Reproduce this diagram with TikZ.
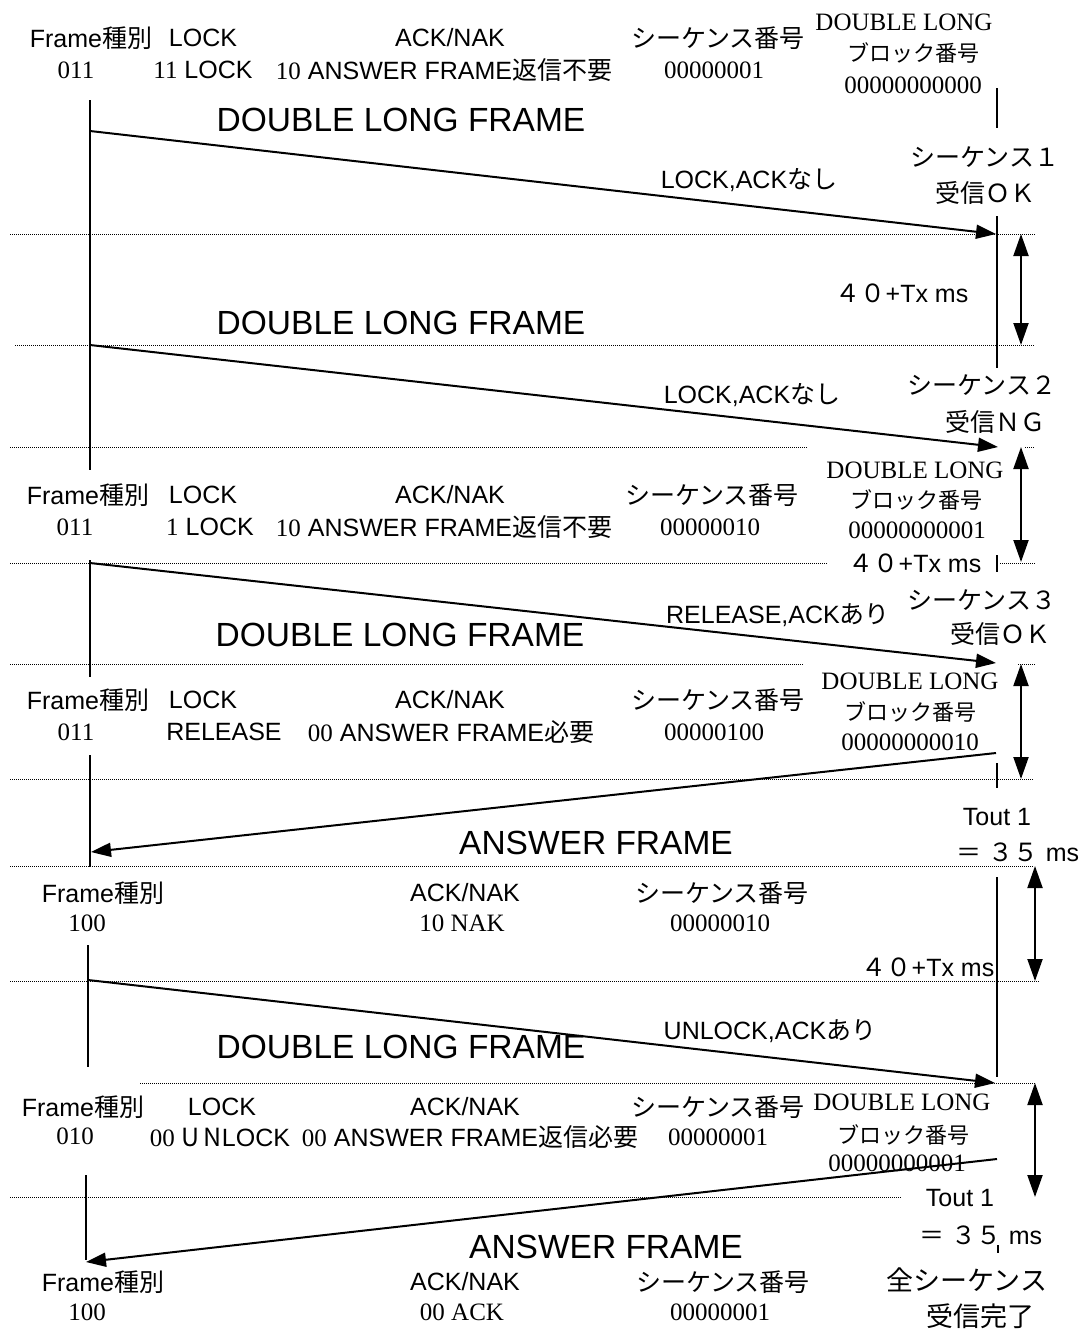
\documentclass[tikz,border=0pt]{standalone}
\usepackage{fontspec}
\setmainfont{Liberation Sans}
\newfontfamily\serfont{Liberation Serif}
\newfontfamily\jpfont{Noto Sans CJK JP}
\usepackage{tikz}
\usetikzlibrary{positioning, arrows.meta}
\newcommand{\jtxt}[1]{{\jpfont #1}}
\newcommand{\sertxt}[1]{{\serfont #1}}

\begin{document}
\begin{tikzpicture}[
  x=1pt, y=-1pt,
  lbl/.style={font=\fontsize{25}{28}\selectfont, inner sep=0pt},
  ser/.style={font=\fontsize{25}{28}\selectfont\serfont, inner sep=0pt},
  jp/.style={font=\fontsize{25}{28}\selectfont\jpfont, inner sep=0pt},
  jpsm/.style={font=\fontsize{22}{26}\selectfont\jpfont, inner sep=0pt},
  jpbig/.style={font=\fontsize{27}{30}\selectfont\jpfont, inner sep=0pt},
  big/.style={font=\fontsize{33.5}{38}\selectfont, inner sep=0pt},
  life/.style={line width=1.5pt},
  msg/.style={-{Triangle[length=20pt,width=14pt]}, line width=2pt},
  span/.style={{Triangle[length=22pt,width=15pt]}-{Triangle[length=22pt,width=15pt]}, line width=2pt},
  sep/.style={dash pattern=on 1pt off 1pt, line width=0.8pt}
]
\useasboundingbox (0,0) rectangle (1082,1339);

% header of frame 1
\node[lbl] (ft1) at (91,38) {Frame\jtxt{種別}};
\node[ser] (fv1) at (76,70) {011};
\node[lbl] (lk1) at (203,38) {LOCK};
\node[lbl] (lv1) at (203,70) {\sertxt{11} LOCK};
\node[lbl] (ak1) at (450,38) {ACK/NAK};
\node[lbl] (av1) at (444,70) {\sertxt{10} ANSWER FRAME\jtxt{返信不要}};
\node[jp] (sq1) at (718,38) {シーケンス番号};
\node[ser] (sv1) at (714,70) {00000001};
\node[ser] (dl1) at (904,22) {DOUBLE LONG};
\node[jpsm] (bk1) at (913,53) {ブロック番号};
\node[ser] (bv1) at (913,85) {00000000000};

% header of frame 2
\node[lbl] (ft2) at (88,495) {Frame\jtxt{種別}};
\node[ser] (fv2) at (75,527) {011};
\node[lbl] (lk2) at (203,495) {LOCK};
\node[lbl] (lv2) at (210,527) {\sertxt{1} LOCK};
\node[lbl] (ak2) at (450,495) {ACK/NAK};
\node[lbl] (av2) at (444,527) {\sertxt{10} ANSWER FRAME\jtxt{返信不要}};
\node[jp] (sq2) at (712,495) {シーケンス番号};
\node[ser] (sv2) at (710,527) {00000010};
\node[ser] (dl2) at (915,470) {DOUBLE LONG};
\node[jpsm] (bk2) at (916,500) {ブロック番号};
\node[ser] (bv2) at (917,530) {00000000001};

% header of frame 3
\node[lbl] (ft3) at (88,700) {Frame\jtxt{種別}};
\node[ser] (fv3) at (76,732) {011};
\node[lbl] (lk3) at (203,700) {LOCK};
\node[lbl] (lv3) at (224,732) {RELEASE};
\node[lbl] (ak3) at (450,700) {ACK/NAK};
\node[lbl] (av3) at (451,732) {\sertxt{00} ANSWER FRAME\jtxt{必要}};
\node[jp] (sq3) at (718,700) {シーケンス番号};
\node[ser] (sv3) at (714,732) {00000100};
\node[ser] (dl3) at (910,681) {DOUBLE LONG};
\node[jpsm] (bk3) at (910,712) {ブロック番号};
\node[ser] (bv3) at (910,742) {00000000010};

% answer 1
\node[lbl] (ft4) at (103,893) {Frame\jtxt{種別}};
\node[ser] (fv4) at (87,923) {100};
\node[lbl] (ak4) at (465,893) {ACK/NAK};
\node[ser] (av4) at (462,923) {10 NAK};
\node[jp] (sq4) at (722,893) {シーケンス番号};
\node[ser] (sv4) at (720,923) {00000010};

% header of frame 5
\node[lbl] (ft5) at (83,1107) {Frame\jtxt{種別}};
\node[ser] (fv5) at (75,1136) {010};
\node[lbl] (lk5) at (222,1107) {LOCK};
\node[lbl] (lv5) at (220,1137) {\sertxt{00} \jtxt{U}\kern4pt\jtxt{N}LOCK};
\node[lbl] (ak5) at (465,1107) {ACK/NAK};
\node[lbl] (av5) at (470,1137) {\sertxt{00} ANSWER FRAME\jtxt{返信必要}};
\node[jp] (sq5) at (718,1107) {シーケンス番号};
\node[ser] (sv5) at (718,1137) {00000001};
\node[ser] (dl5) at (902,1102) {DOUBLE LONG};
\node[jpsm] (bk5) at (903,1135) {ブロック番号};
\node[ser] (bv5) at (897,1163) {00000000001};

% answer 2
\node[lbl] (ft6) at (103,1282) {Frame\jtxt{種別}};
\node[ser] (fv6) at (87,1312) {100};
\node[lbl] (ak6) at (465,1282) {ACK/NAK};
\node[ser] (av6) at (462,1312) {00 ACK};
\node[jp] (sq6) at (723,1282) {シーケンス番号};
\node[ser] (sv6) at (720,1312) {00000001};

% frame names
\node[big] (df1) at (401,120) {DOUBLE LONG FRAME};
\node[big] (df2) at (401,323) {DOUBLE LONG FRAME};
\node[big] (df3) at (400,635) {DOUBLE LONG FRAME};
\node[big] (af4) at (596,843) {ANSWER FRAME};
\node[big] (df5) at (401,1047) {DOUBLE LONG FRAME};
\node[big] (af6) at (606,1247) {ANSWER FRAME};

\node[lbl] (m1) at (749,180) {LOCK,ACK\jtxt{なし}};
\node[lbl] (m2) at (752,395) {LOCK,ACK\jtxt{なし}};
\node[lbl] (m3) at (778,615) {RELEASE,ACK\jtxt{あり}};
\node[lbl] (m5) at (770,1031) {UNLOCK,ACK\jtxt{あり}};

% receiver side
\node[jp] (rs1) at (985,157) {シーケンス１};
\node[jp] (rr1) at (985,193) {受信ＯＫ};
\node[jp] (rs2) at (982,385) {シーケンス２};
\node[jp] (rr2) at (995,422) {受信ＮＧ};
\node[jp] (rs3) at (982,600) {シーケンス３};
\node[jp] (rr3) at (1000,634) {受信ＯＫ};
\node[jpbig] (fin1) at (967,1280) {全シーケンス};
\node[jpbig] (fin2) at (980,1316) {受信完了};

\node[lbl] (tx1) at (902,293) {\jtxt{４０}+Tx ms};
\node[lbl] (tx2) at (915,563) {\jtxt{４０}+Tx ms};
\node[lbl] (tx3) at (928,967) {\jtxt{４０}+Tx ms};
\node[lbl] (to1) at (997,817) {Tout 1};
\node[lbl] (eq1) at (1018,852) {\jtxt{＝} \jtxt{３５} ms};
\node[lbl] (to2) at (960,1198) {Tout 1};
\node[lbl] (eq2) at (981,1235) {\jtxt{＝} \jtxt{３５} ms};

% dotted separators
\draw[sep] (10,234) -- (1035,234);
\draw[sep] (15,345) -- (1035,345);
\draw[sep] (10,447) -- (808,447);
\draw[sep] (1025,447) -- (1035,447);
\draw[sep] (10,563) -- (828,563);
\draw[sep] (1000,563) -- (1035,563);
\draw[sep] (10,664) -- (804,664);
\draw[sep] (1018,664) -- (1035,664);
\draw[sep] (10,779) -- (1033,779);
\draw[sep] (10,866) -- (1033,866);
\draw[sep] (10,981) -- (1040,981);
\draw[sep] (140,1083) -- (1035,1083);
\draw[sep] (10,1197) -- (902,1197);

% sender line
\draw[life] (90,100) -- (90,470);
\draw[life] (90,560) -- (90,677);
\draw[life] (90,755) -- (90,867);
\draw[life] (88,945) -- (88,1067);
\draw[life] (86,1175) -- (86,1260);

% receiver line
\draw[life] (997,88) -- (997,128);
\draw[life] (997,216) -- (997,368);
\draw[life] (997,555) -- (997,572);
\draw[life] (997,763) -- (997,788);
\draw[life] (997,877) -- (997,1077);
\draw[life] (998,1245) -- (998,1253);

% messages
\coordinate (s1) at (90,131);
\coordinate (r1) at (996,234);
\coordinate (s2) at (90,345);
\coordinate (r2) at (998,447);
\coordinate (s3) at (90,563);
\coordinate (r3) at (996,663);
\coordinate (r4) at (996,753);
\coordinate (s4) at (91,852);
\coordinate (s5) at (88,980);
\coordinate (r5) at (995,1083);
\coordinate (r6) at (997,1159);
\coordinate (s6) at (86,1262);
\draw[msg] (s1) -- (r1);
\draw[msg] (s2) -- (r2);
\draw[msg] (s3) -- (r3);
\draw[msg] (r4) -- (s4);
\draw[msg] (s5) -- (r5);
\draw[msg] (r6) -- (s6);

% intervals
\coordinate (t1a) at (1021,234);
\coordinate (t1b) at (1021,345);
\coordinate (t2a) at (1021,447);
\coordinate (t2b) at (1021,562);
\coordinate (t3a) at (1021,664);
\coordinate (t3b) at (1021,779);
\coordinate (t4a) at (1035,866);
\coordinate (t4b) at (1035,981);
\coordinate (t5a) at (1035,1083);
\coordinate (t5b) at (1035,1197);
\draw[span] (t1a) -- (t1b);
\draw[span] (t2a) -- (t2b);
\draw[span] (t3a) -- (t3b);
\draw[span] (t4a) -- (t4b);
\draw[span] (t5a) -- (t5b);
\end{tikzpicture}
\end{document}
